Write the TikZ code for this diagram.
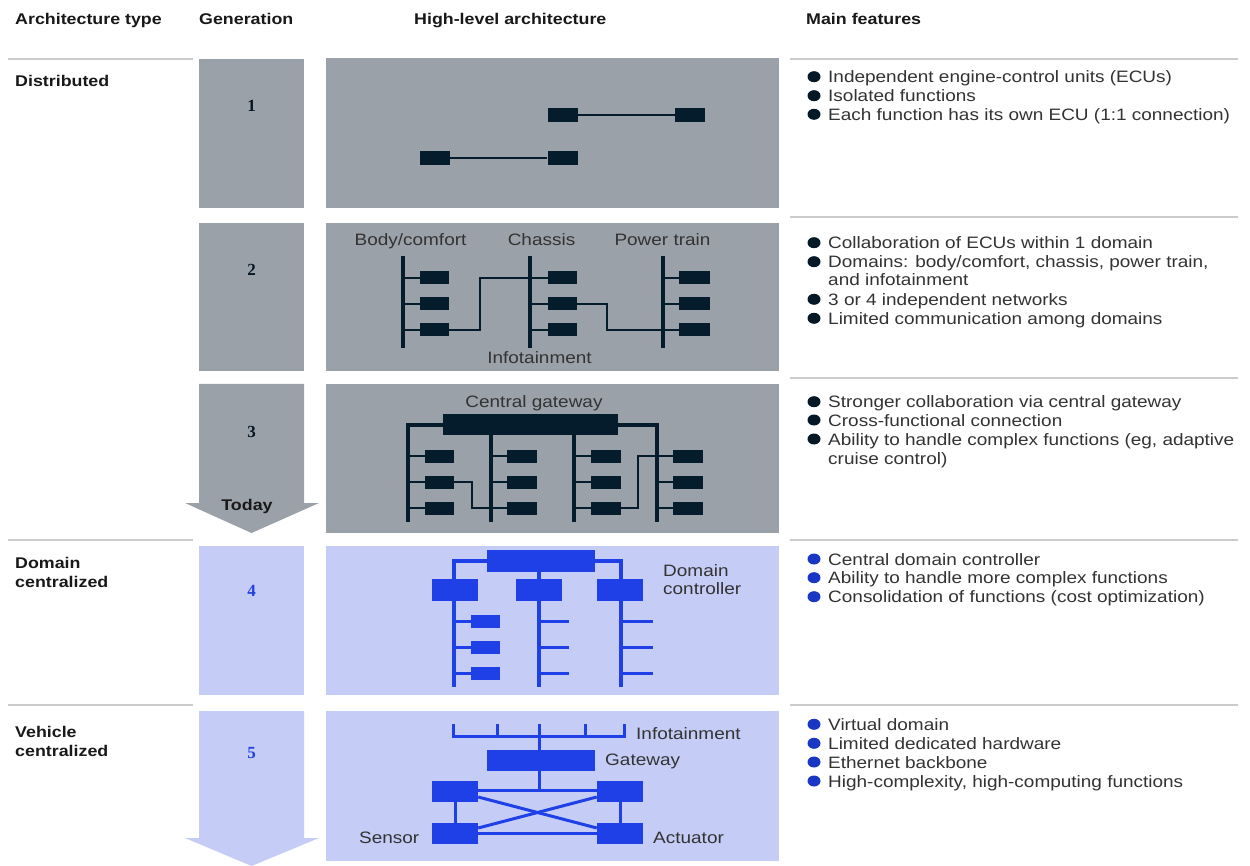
\documentclass[tikz,border=0pt]{standalone}
\usepackage{fontspec}
\setmainfont[FakeStretch=1.15]{Liberation Sans}
\newfontfamily\numfont{Liberation Serif}
\definecolor{gbox}{HTML}{9BA1A9}
\definecolor{navy}{HTML}{051C2C}
\definecolor{lav}{HTML}{C5CCF6}
\definecolor{blu}{HTML}{1F40E6}
\definecolor{txt}{HTML}{333333}
\definecolor{sepc}{HTML}{CCCCCC}
\tikzset{
  hdr/.style={anchor=base west, inner sep=0, font=\fontsize{15.5}{18}\selectfont\bfseries, text=black!90},
  feat/.style={anchor=base west, inner sep=0, font=\fontsize{16.5}{19}\selectfont, text=txt},
  lbl/.style={inner sep=0, font=\fontsize{16.5}{19}\selectfont, text=txt},
  gnum/.style={inner sep=0, font=\fontsize{17}{20}\selectfont\numfont\bfseries},
  sepline/.style={draw=sepc, line width=1.2pt},
  ecu/.style={fill=navy, inner sep=0, minimum width=29pt, minimum height=13pt},
  becu/.style={fill=blu, inner sep=0, minimum width=29pt, minimum height=13pt},
  bbig/.style={fill=blu, inner sep=0, minimum width=46pt, minimum height=22pt},
  bctrl/.style={fill=blu, inner sep=0, minimum width=108pt, minimum height=22pt},
  nline/.style={draw=navy, line width=2.6pt},
  nbus/.style={draw=navy, line width=4pt},
  bline/.style={draw=blu, line width=3pt},
  bbus/.style={draw=blu, line width=4pt},
}
\begin{document}
\begin{tikzpicture}[x=1pt,y=-1pt]
\useasboundingbox (0,0) rectangle (1250,866);
\fill[white] (0,0) rectangle (1250,866);

% ---------- headers ----------
\node[hdr] (h1) at (15,25) {Architecture type};
\node[hdr] (h2) at (199,25) {Generation};
\node[hdr] (h3) at (414,25) {High-level architecture};
\node[hdr] (h4) at (806,25) {Main features};

% ---------- separator lines ----------
\foreach \yy in {59,540,705} \draw[sepline] (8,\yy) -- (193,\yy);
\foreach \yy in {59,217,378,540,705} \draw[sepline] (790,\yy) -- (1238,\yy);

% ---------- architecture types ----------
\node[hdr] (t1) at (15,87) {Distributed};
\node[hdr] (t2a) at (15,568) {Domain};
\node[hdr] (t2b) at (15,587) {centralized};
\node[hdr] (t3a) at (15,737) {Vehicle};
\node[hdr] (t3b) at (15,756) {centralized};

% ---------- generation column ----------
\fill[gbox] (199,59) rectangle (304,208);
\fill[gbox] (199,223) rectangle (304,371);
\fill[gbox] (199,384) -- (304,384) -- (304,503) -- (319,503) -- (251.5,533) -- (185,503) -- (199,503) -- cycle;
\fill[lav] (199,546) rectangle (304,695);
\fill[lav] (199,711) -- (304,711) -- (304,838) -- (319,838) -- (251.5,866) -- (185,838) -- (199,838) -- cycle;
\node[gnum, text=navy!80!black] (n1) at (251.5,106) {1};
\node[gnum, text=navy!80!black] (n2) at (251.5,269.5) {2};
\node[gnum, text=navy!80!black] (n3) at (251.5,432) {3};
\node[gnum, text=blu] (n4) at (251.5,591) {4};
\node[gnum, text=blu] (n5) at (251.5,753) {5};
\node[hdr, anchor=base] (today) at (247,510.5) {Today};

% ---------- diagram panels ----------
\fill[gbox] (326,58) rectangle (779,208);
\fill[gbox] (326,223) rectangle (779,371);
\fill[gbox] (326,384) rectangle (779,533);
\fill[lav] (326,546) rectangle (779,695);
\fill[lav] (326,711) rectangle (779,861);

% ---------- gen 1 ----------
\node[ecu, minimum width=30pt, minimum height=14pt] (a1) at (435,158) {};
\node[ecu, minimum width=30pt, minimum height=14pt] (a2) at (562.5,158) {};
\node[ecu, minimum width=30pt, minimum height=14pt] (a3) at (562.5,115) {};
\node[ecu, minimum width=30pt, minimum height=14pt] (a4) at (690,115) {};
\draw[nline] (a1.east) -- (a2.west);
\draw[nline] (a3.east) -- (a4.west);

% ---------- gen 2 ----------
\node[lbl, anchor=base] (l2a) at (410.5,246) {Body/comfort};
\node[lbl, anchor=base] (l2b) at (541.5,246) {Chassis};
\node[lbl, anchor=base] (l2c) at (662.5,246) {Power train};
\node[lbl, anchor=base] (l2d) at (539.5,363) {Infotainment};
\coordinate (bA) at (403,256); \coordinate (bAe) at (403,348);
\coordinate (bB) at (530,256); \coordinate (bBe) at (530,348);
\coordinate (bC) at (663,256); \coordinate (bCe) at (663,348);
\draw[nbus] (bA) -- (bAe);
\draw[nbus] (bB) -- (bBe);
\draw[nbus] (bC) -- (bCe);
\foreach \r/\yy in {1/278,2/304,3/330}{
  \node[ecu] (p\r) at (434.5,\yy) {};
  \node[ecu] (q\r) at (562.5,\yy) {};
  \node[ecu, minimum width=31pt] (s\r) at (694.5,\yy) {};
  \draw[nline] (403,\yy) -- (p\r.west);
  \draw[nline] (530,\yy) -- (q\r.west);
  \draw[nline] (663,\yy) -- (s\r.west);
}
\draw[nline] (p3.east) -- (480,330) -- (480,278) -- (q1.west);
\draw[nline] (q2.east) -- (607,304) -- (607,330) -- (s3.west);

% ---------- gen 3 ----------
\node[lbl, anchor=base] (l3) at (534,407) {Central gateway};
\node[fill=navy, inner sep=0, minimum width=175pt, minimum height=21pt] (gw) at (530.5,424.5) {};
\draw[nbus] (gw.west) -- (408,424.5) -- (408,522);
\draw[nbus] (gw.east) -- (657,424.5) -- (657,522);
\draw[nbus] (491,435) -- (491,522);
\draw[nbus] (574,435) -- (574,522);
\foreach \r/\yy in {1/456,2/482,3/508}{
  \node[ecu] (c\r) at (439.5,\yy) {};
  \node[ecu, minimum width=30pt] (d\r) at (522,\yy) {};
  \node[ecu, minimum width=30pt] (e\r) at (606,\yy) {};
  \node[ecu, minimum width=30pt] (f\r) at (688,\yy) {};
  \draw[nline] (408,\yy) -- (c\r.west);
  \draw[nline] (491,\yy) -- (d\r.west);
  \draw[nline] (574,\yy) -- (e\r.west);
  \draw[nline] (657,\yy) -- (f\r.west);
}
\draw[nline] (c2.east) -- (472,482) -- (472,508) -- (491,508);
\draw[nline] (e3.east) -- (638,508) -- (638,456) -- (657,456);

% ---------- gen 4 ----------
\node[bctrl] (dc) at (541,561) {};
\node[bbig] (dA) at (455,590) {};
\node[bbig] (dB) at (538.5,590) {};
\node[bbig] (dC) at (620,590) {};
\draw[bbus] (dc.west) -- (454,561) -- (dA.north -| 454,0);
\draw[bbus] (dc.east) -- (621,561) -- (dC.north -| 621,0);
\draw[bbus] (dc.south -| 538.5,0) -- (dB.north);
\draw[bbus] (dA.south -| 454,0) -- (454,687);
\draw[bbus] (dB.south) -- (538.5,687);
\draw[bbus] (dC.south -| 621,0) -- (621,687);
\foreach \r/\yy in {1/621,2/647,3/673}{
  \node[becu] (u\r) at (485.5,\yy) {};
  \draw[bline] (454,\yy) -- (u\r.west);
  \draw[bline] (538.5,\yy) -- (569,\yy);
  \draw[bline] (621,\yy) -- (653,\yy);
}
\node[lbl, anchor=base west] (l4a) at (663,576) {Domain};
\node[lbl, anchor=base west] (l4b) at (663,594) {controller};

% ---------- gen 5 ----------
\draw[bline] (453,724) -- (453,736) -- (624,736) -- (624,724);
\foreach \xx in {497,539,585} \draw[bline] (\xx,724) -- (\xx,736);
\node[bctrl, minimum height=21pt] (vg) at (541,760.5) {};
\draw[bline] (539,736) -- (vg.north -| 539,0);
\node[bbig, minimum height=21pt] (v1) at (455,791.5) {};
\node[bbig, minimum height=21pt] (v2) at (620,791.5) {};
\node[bbig, minimum height=21pt] (v3) at (455,833.5) {};
\node[bbig, minimum height=21pt] (v4) at (620,833.5) {};
\draw[bline] (vg.south -| 539,0) -- (539,790);
\draw[bline] (v1.east |- 0,790) -- (v2.west |- 0,790);
\draw[bline] (v3.east) -- (v4.west);
\draw[bline] (v1.south) -- (v3.north);
\draw[bline] (v2.south) -- (v4.north);
\draw[bline] (v1.east |- 0,797) -- (v4.west |- 0,828);
\draw[bline] (v3.east |- 0,828) -- (v2.west |- 0,797);
\node[lbl, anchor=base west] (l5a) at (636,739) {Infotainment};
\node[lbl, anchor=base west] (l5b) at (605,765) {Gateway};
\node[lbl, anchor=base west] (l5c) at (359,843) {Sensor};
\node[lbl, anchor=base west] (l5d) at (653,843) {Actuator};

% ---------- main features ----------
\foreach \yy/\tt/\bc in {
  76.7/Independent engine-control units (ECUs)/navy,
  95.7/Isolated functions/navy,
  114.3/Each function has its own ECU (1:1 connection)/navy,
  242.7/Collaboration of ECUs within 1 domain/navy,
  261.7/{Domains: body/comfort, chassis, power train,}/navy,
  299.3/3 or 4 independent networks/navy,
  318.3/Limited communication among domains/navy,
  401.7/Stronger collaboration via central gateway/navy,
  420/Cross-functional connection/navy,
  439/{Ability to handle complex functions (eg, adaptive}/navy,
  559/Central domain controller/blu,
  577.7/Ability to handle more complex functions/blu,
  596.7/Consolidation of functions (cost optimization)/blu,
  724.3/Virtual domain/blu,
  743.3/Limited dedicated hardware/blu,
  762/Ethernet backbone/blu,
  781/{High-complexity, high-computing functions}/blu}{
  \fill[\bc!85!black] (814,\yy) ellipse [x radius=6.5pt, y radius=5.5pt];
  \node[feat] at (828,\yy+6) {\tt};
}
\node[feat] (c2x) at (828,286) {and infotainment};
\node[feat] (c3x) at (828,464.3) {cruise control)};
\end{tikzpicture}
\end{document}
